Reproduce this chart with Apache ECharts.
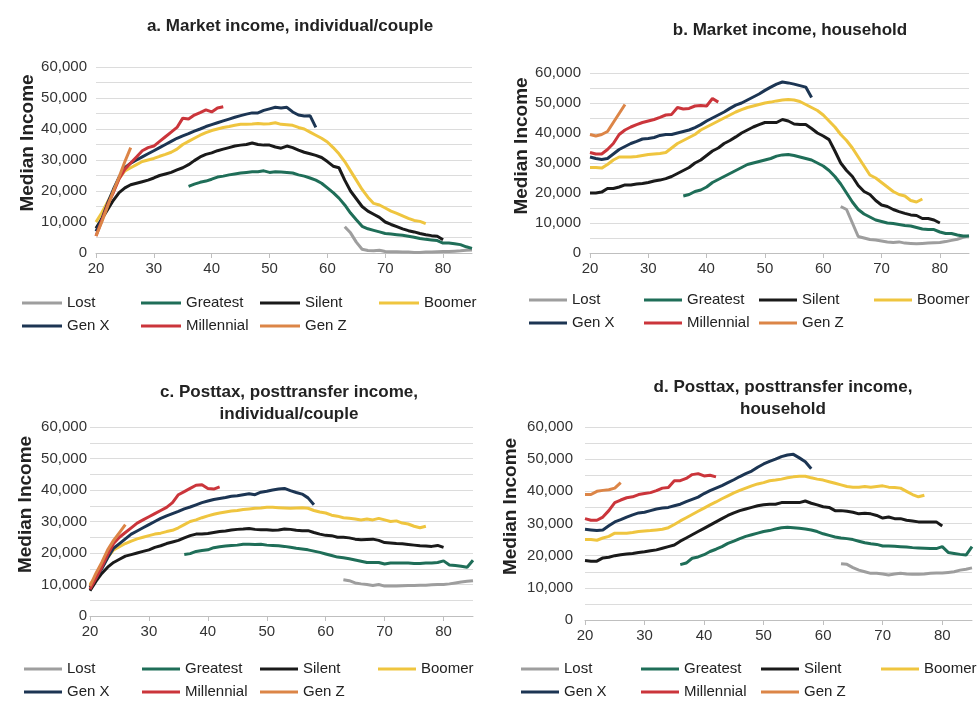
<!DOCTYPE html>
<html>
<head>
	<meta charset="utf-8">
	<title>Median income by generation</title>
	<script src="https://cdn.jsdelivr.net/npm/echarts@6/dist/echarts.min.js"></script>
	<style type="text/css">
		* {
			padding: 0;
			margin: 0;
		}
		body {
			background: #fff;
		}
		#chart {
			width: 980px;
			height: 714px;
		}
	</style>
</head>
<body>
	<div id="chart"></div>
	<script type="text/javascript">
		// generations, in legend order, and the age each series starts at
		var gens = ['Lost', 'Greatest', 'Silent', 'Boomer', 'Gen X', 'Millennial', 'Gen Z'];
		var startAge = [63, 36, 20, 20, 20, 20, 20];
		var colors = ['#9e9e9e', '#1f6e58', '#1a1a1a', '#efc53f', '#1c3553', '#cb353b', '#dc8547'];

		var titles = [
			'a. Market income, individual/couple',
			'b. Market income, household',
			'c. Posttax, posttransfer income,\nindividual/couple',
			'd. Posttax, posttransfer income,\nhousehold'
		];
		var ageTicks = [20, 30, 40, 50, 60, 70, 80];

		// a. market income, individual/couple
		var lostA = [8500,6500,3500,1200,800,700,900,500,400,400,300,300,200,200,300,300,400,500,500,600,700,900,1000];
		var greatestA = [21500,22200,22800,23200,23800,24500,24800,25200,25500,25800,
			26000,26200,26200,26500,26000,26200,26100,26000,25800,25200,
			24800,24200,23500,22500,21000,19500,17700,15500,12900,10700,
			8600,7800,7300,6800,6300,6100,5900,5700,5400,5100,
			4700,4400,4200,4000,3200,3200,3000,2700,2000,1500];
		var silentA = [8000,11000,14000,17000,19500,21000,22000,22500,23000,23500,
			24200,25000,25500,26000,26800,27500,28500,29800,31000,31800,
			32300,33000,33500,34000,34500,34800,35000,35500,35000,34800,
			34800,34200,33800,34500,34000,33200,32500,32000,31500,30800,
			29500,28000,27500,23500,20000,17500,15000,13500,12500,11500,
			10000,9200,8500,7800,7200,6800,6300,5900,5600,5400,4300];
		var boomerA = [10000,13000,16500,20000,24000,26500,27500,28500,29500,30000,
			30500,31200,31800,32500,33500,35000,36000,37000,38000,38800,
			39500,40000,40500,40800,41200,41500,41500,41600,41800,41600,
			41700,42000,41500,41400,41200,40500,40000,39000,38000,37000,
			35800,34000,32000,29500,26500,23500,20500,18000,16000,15500,
			14500,13500,12800,12000,11200,10500,10200,9500];
		var genxA = [7000,11000,16000,20500,24500,27500,29000,30000,31000,32000,
			33000,34000,35000,36000,37000,37800,38500,39300,40000,40800,
			41400,42000,42600,43200,43800,44300,44800,45200,45200,46000,
			46500,47000,46800,47000,45500,44500,44200,44300,40500];
		var millA = [5500,10500,15500,19500,24000,27000,29000,31000,33000,34000,
			34500,36000,37500,39000,40500,43500,43200,44500,45300,46200,
			45500,46800,47200];
		var genzA = [5500,10000,15000,20000,24500,29500,34000];

		// b. market income, household
		var lostB = [15500,14500,10000,5500,5000,4500,4300,4000,3700,3500,3700,3300,3200,3100,3200,3300,3400,3500,3800,4200,4600,5200,5700];
		var greatestB = [19000,19500,20500,21000,22000,23500,24500,25500,26500,27500,
			28500,29500,30000,30500,31000,31500,32300,32700,32800,32500,
			32000,31500,31000,30000,29000,27500,25500,23000,20000,17000,
			14500,13000,12000,11000,10500,10000,9800,9500,9200,9000,
			8500,8000,7800,7800,7000,6500,6500,6000,5700,5700];
		var silentB = [20000,20000,20300,21500,21500,22000,22700,22700,23000,23200,
			23500,24000,24300,24800,25500,26500,27500,28500,30000,31000,
			32500,34000,35000,36500,37500,38700,40000,41000,42000,42800,
			43500,43500,43500,44500,44000,43000,42800,42800,41500,40000,
			39000,37800,34000,30000,27500,25500,22500,20500,19500,17500,
			16000,15500,14500,13800,13200,12700,12500,11500,11500,11000,10000];
		var boomerB = [28500,28500,28300,29500,31000,32000,32000,32000,32200,32500,
			32800,33000,33200,33500,35000,36500,37500,38500,39500,41000,
			42000,43000,44000,45000,46000,47000,47800,48500,49000,49500,
			50000,50300,50700,51000,51200,51000,50500,49500,48500,47500,
			46000,44000,42000,39500,37500,35000,32000,29000,26000,25000,
			23500,22000,20500,19500,19000,17500,17000,18000];
		var genxB = [32000,31500,31200,31500,33000,34500,35500,36500,37200,38000,
			38200,38500,39200,39500,39500,40000,40500,41000,41800,42800,
			44000,45000,46000,47000,48200,49300,50000,51000,52000,53000,
			54200,55300,56300,57000,56700,56300,55800,55300,51800];
		var millB = [33500,33000,33000,34500,36500,39500,41000,42000,42800,43500,
			44000,44500,45200,46000,46200,48500,48000,48200,49000,49200,
			49000,51500,50300];
		var genzB = [39500,39000,39500,40500,43500,46500,49500];

		// c. posttax, posttransfer income, individual/couple
		var lostC = [11500,11200,10500,10200,10000,9700,10000,9500,9500,9500,9600,9700,9700,9800,9800,9900,10000,10000,10200,10500,10800,11000,11200];
		var greatestC = [19500,19800,20500,20800,21000,21700,22000,22200,22400,22500,
			22800,22800,22700,22800,22500,22400,22300,22100,21800,21500,
			21300,21000,20600,20200,19700,19200,18700,18500,18200,17800,
			17400,17000,17000,17000,16500,16800,16800,16800,16800,16700,
			16700,16800,16800,17000,17500,16200,16000,15800,15500,17700];
		var silentC = [8000,11000,13500,15500,17000,18000,19000,19500,20000,20500,
			21000,21800,22300,23000,23500,24000,24800,25500,26000,26000,
			26200,26500,26800,27000,27300,27500,27600,27800,27500,27400,
			27400,27200,27300,27600,27500,27200,27100,27100,26500,26000,
			25600,25500,25000,25000,24800,24400,24200,24300,24400,24000,
			23300,23200,23000,22900,22700,22500,22300,22200,22100,22400,21800];
		var boomerC = [10000,12500,15500,18500,21000,22000,23000,23800,24500,25000,
			25500,26000,26300,26800,27200,28000,29000,30000,30500,31200,
			31800,32300,32700,33000,33300,33500,33800,34000,34200,34300,
			34500,34500,34400,34300,34200,34300,34400,34200,33500,33000,
			32700,32000,31700,31200,31000,30800,30500,30800,30500,31000,
			30500,30000,30200,29500,29200,28500,28000,28500];
		var genxC = [9000,12000,15000,18500,21500,23000,24500,26000,27000,28000,
			29000,30000,31000,31800,32500,33200,34000,34600,35300,36000,
			36500,37000,37300,37600,38000,38200,38500,38800,38500,39300,
			39600,40000,40300,40500,39800,39200,38700,37500,35300];
		var millC = [8500,12000,15500,19500,23000,25000,26500,28000,29500,30500,
			31500,32500,33500,34500,36000,38500,39500,40500,41500,41700,
			40500,40300,41000];
		var genzC = [9500,13500,17000,21000,24000,26500,29000];

		// d. posttax, posttransfer income, household
		var lostD = [17500,17300,16300,15500,15000,14500,14500,14300,14000,14300,14500,14300,14200,14200,14300,14500,14600,14600,14800,15000,15500,15800,16200];
		var greatestD = [17200,17700,19200,19600,20300,21300,22000,22800,23800,24500,
			25300,26000,26500,27000,27500,27800,28300,28700,28800,28700,
			28500,28300,28000,27500,26800,26300,25800,25500,25300,25000,
			24500,24000,23700,23500,23000,23000,22900,22800,22700,22500,
			22400,22300,22200,22200,22800,21000,20700,20400,20200,22800];
		var silentD = [18500,18300,18300,19300,19500,20000,20300,20500,20700,21000,
			21200,21500,21800,22300,22800,23300,24500,25500,26500,27500,
			28500,29500,30500,31500,32500,33300,34000,34500,35000,35500,
			35800,36000,36000,36500,36500,36500,36500,37000,36300,35800,
			35200,35000,34000,34000,33800,33500,33000,33200,33000,32500,
			31700,32000,31500,31500,31000,30800,30500,30500,30500,30500,29200];
		var boomerD = [25000,25000,24800,25500,26000,27000,27000,27000,27200,27500,
			27700,27800,28000,28200,28700,29700,30800,31800,32800,33800,
			34800,35800,36700,37700,38600,39500,40300,41000,41700,42300,
			42700,43300,43500,43800,44200,44500,44700,44700,44200,43800,
			43500,43000,42500,42000,41500,41300,41300,41500,41300,41500,
			41700,41300,41200,41000,40000,39000,38300,38800];
		var genxD = [28200,28000,27800,28000,29300,30500,31200,32000,32700,33300,
			33500,34000,34500,34800,35000,35500,36000,36800,37500,38200,
			39300,40200,41000,41800,42700,43600,44600,45500,46300,47500,
			48500,49300,50000,50800,51300,51500,50400,49200,47000];
		var millD = [31500,31000,31000,32000,34000,36500,37300,38000,38300,39000,
			39300,39600,40200,41000,41200,43300,43300,44000,45200,45500,
			44800,45000,44500];
		var genzD = [39000,39000,40000,40300,40500,41000,42700];

		var panels = [
			[lostA, greatestA, silentA, boomerA, genxA, millA, genzA],
			[lostB, greatestB, silentB, boomerB, genxB, millB, genzB],
			[lostC, greatestC, silentC, boomerC, genxC, millC, genzC],
			[lostD, greatestD, silentD, boomerD, genxD, millD, genzD]
		];

		var font = 'Liberation Sans, Arial, sans-serif';

		// layout of the four panels
		var grids = [
			{left: 96, top: 67, width: 376, height: 186},
			{left: 590, top: 73, width: 379, height: 180},
			{left: 90, top: 427, width: 383, height: 189},
			{left: 585, top: 427, width: 387, height: 193}
		];
		var titlePos = [[285, 10], [785, 14], [284, 376], [778, 371]];
		var nameGaps = [58, 57, 55, 65];
		var labelMargins = [9, 9, 3, 12];
		var legendPos = [
			{left: 22, top: 294, itemWidth: 40, textW: 69},
			{left: 529, top: 291, itemWidth: 38, textW: 67},
			{left: 24, top: 660, itemWidth: 38, textW: 70},
			{left: 521, top: 660, itemWidth: 38, textW: 72}
		];

		function pairs(start, arr) {
			var out = [];
			for (var i = 0; i < arr.length; i++) {
				out.push([start + i, arr[i]]);
			}
			return out;
		}

		var option = {
			animation: false,
			textStyle: {fontFamily: font},
			title: [],
			legend: [],
			grid: [],
			xAxis: [],
			yAxis: [],
			series: []
		};

		for (let p = 0; p < 4; p++) {
			option.title.push({
				text: titles[p],
				left: titlePos[p][0],
				top: titlePos[p][1],
				textAlign: 'center',
				textStyle: {fontFamily: font, fontSize: 17, fontWeight: 'bold', color: '#222', lineHeight: 22}
			});
			option.grid.push(grids[p]);
			option.xAxis.push({
				type: 'value',
				gridIndex: p,
				min: 20,
				max: 85,
				interval: 10,
				axisLine: {lineStyle: {color: '#bfbfbf'}},
				axisTick: {length: 5, lineStyle: {color: '#bfbfbf'}},
				splitLine: {show: false},
				axisLabel: {
					fontSize: 15,
					color: '#333',
					margin: 8,
					showMaxLabel: false,
					formatter: function (v) { return ageTicks.indexOf(v) >= 0 ? String(v) : ''; }
				}
			});
			option.yAxis.push({
				type: 'value',
				gridIndex: p,
				min: 0,
				max: 60000,
				interval: 5000,
				name: 'Median Income',
				nameLocation: 'middle',
				nameGap: nameGaps[p],
				nameTextStyle: {fontSize: 19, fontWeight: 'bold', color: '#222', padding: [0, 0, 0, 34]},
				axisLine: {show: false},
				axisTick: {show: false},
				splitLine: {lineStyle: {color: '#dcdcdc'}},
				axisLabel: {
					fontSize: 15,
					color: '#333',
					margin: labelMargins[p],
					formatter: function (v) { return v % 10000 === 0 ? v.toLocaleString('en-US') : ''; }
				}
			});
			let lp = legendPos[p];
			option.legend.push({
				data: gens,
				left: lp.left,
				top: lp.top,
				padding: 0,
				width: 4 * (lp.itemWidth + lp.textW + 10) + 20,
				icon: 'rect',
				itemWidth: lp.itemWidth,
				itemHeight: 3,
				itemGap: 5,
				selectedMode: false,
				textStyle: {fontSize: 15, color: '#222', width: lp.textW, lineHeight: 18}
			});
			for (let g = 0; g < gens.length; g++) {
				option.series.push({
					name: gens[g],
					type: 'line',
					xAxisIndex: p,
					yAxisIndex: p,
					data: pairs(startAge[g], panels[p][g]),
					symbol: 'none',
					color: colors[g],
					lineStyle: {width: 3, color: colors[g]},
					z: 2 + g
				});
			}
		}

		var myChart = echarts.init(document.getElementById('chart'));
		myChart.setOption(option);
	</script>
</body>
</html>
